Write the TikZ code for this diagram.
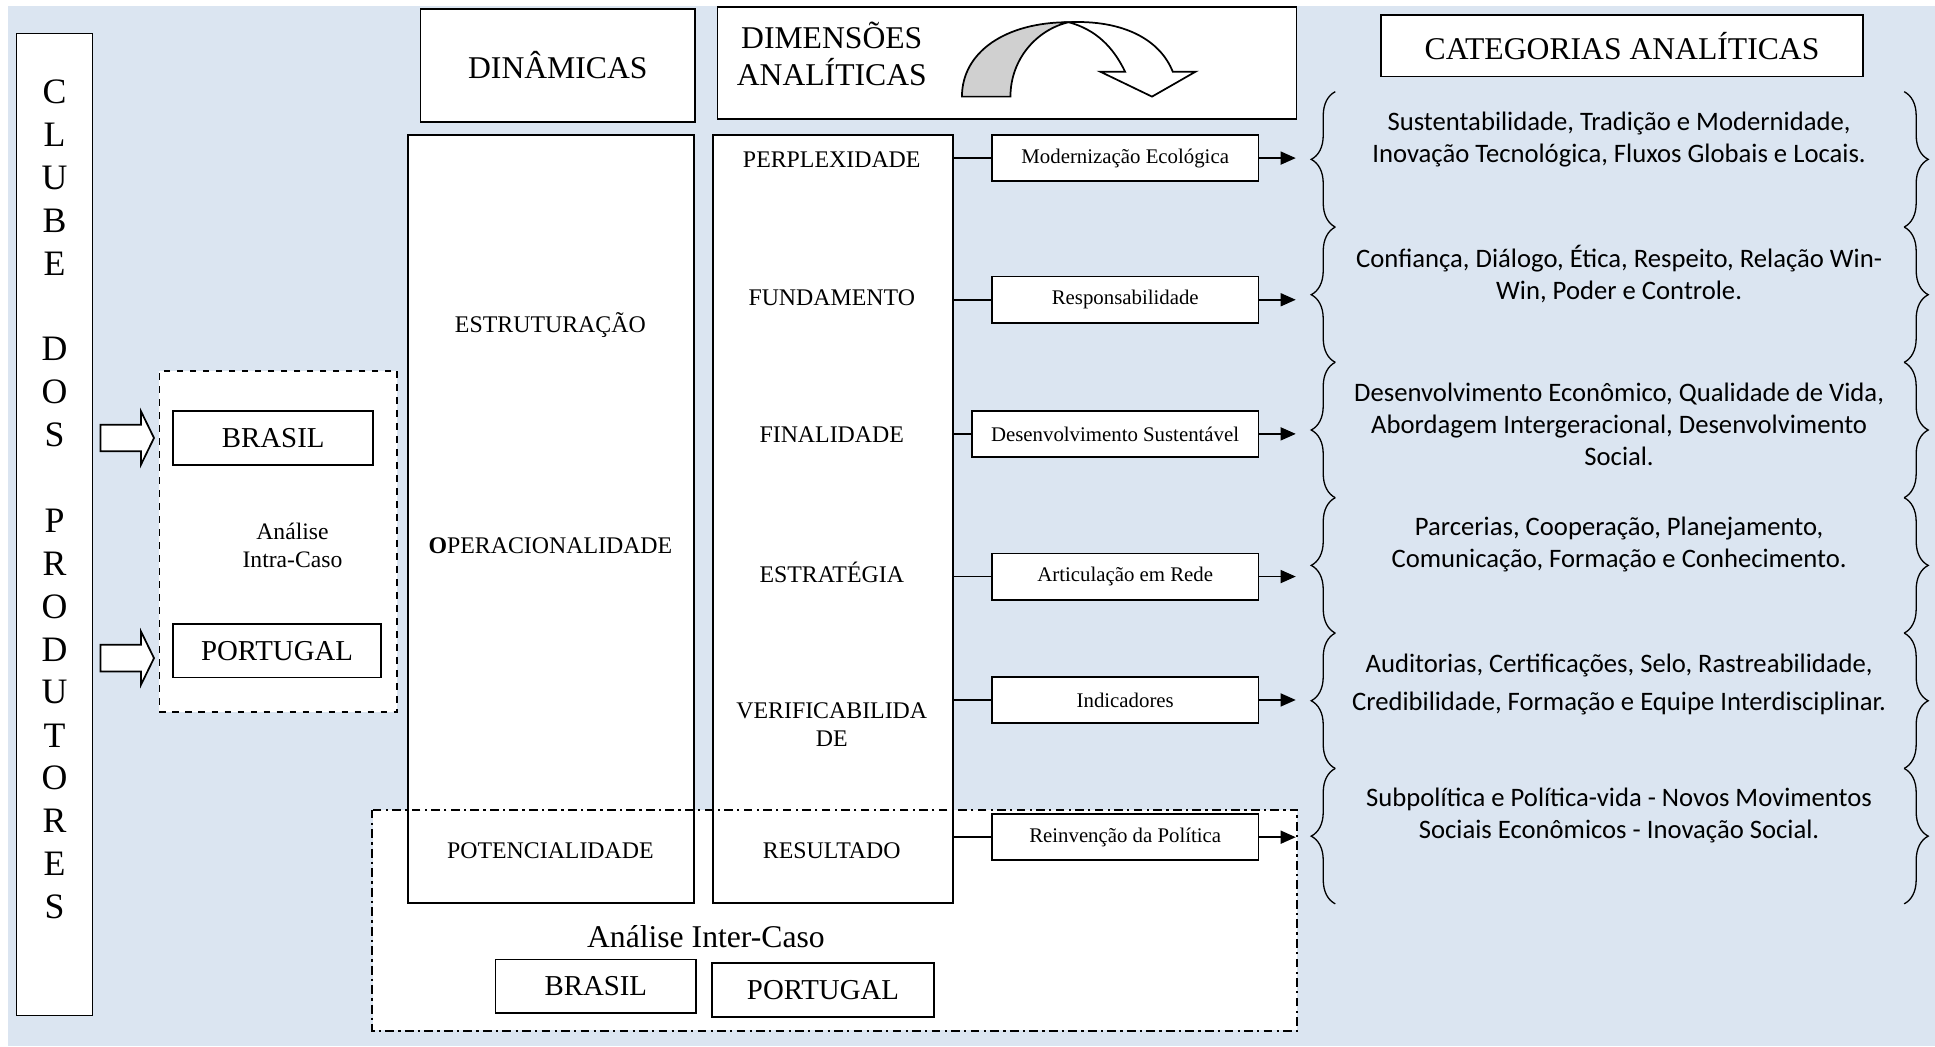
\documentclass[tikz,border=0pt]{standalone}
\usepackage{fontspec}
\setmainfont{Liberation Serif}
\newfontfamily\catfont{Carlito}
\usetikzlibrary{arrows.meta,decorations.pathreplacing}
\definecolor{fundo}{HTML}{DBE5F1}
\definecolor{cinza}{HTML}{D0D0D0}

\begin{document}
\begin{tikzpicture}[x=0.02cm,y=-0.02cm]
\tikzset{caixa/.style={draw, fill=white, line width=0.8pt, inner sep=0pt},
  titulo/.style={font=\fontsize{14.6}{17}\selectfont, align=center},
  pais/.style={caixa, minimum height=0.868cm, font=\fontsize{13.3}{15}\selectfont},
  rotulo/.style={font=\fontsize{11}{13}\selectfont, align=center},
  meio/.style={caixa, minimum width=4.322cm, minimum height=0.75cm, font=\fontsize{9.6}{11}\selectfont},
  seta/.style={-{Triangle[length=7pt,width=6pt]}, line width=0.8pt},
  chave/.style={decorate, decoration={brace, amplitude=0.39cm}, line width=0.6pt},
  cat/.style={font=\catfont\fontsize{12.3}{14.8}\selectfont, align=center}}
\useasboundingbox (0,0) rectangle (1568,848);
\fill[white] (0,0) rectangle (1568,848);
\fill[fundo] (6.5,5) rectangle (1568,848);

\node[caixa, minimum width=1.23cm, minimum height=15.92cm] (clube) at (44.2,425) {};
\foreach \letra [count=\i] in {C,L,U,B,E,{},D,O,S,{},P,R,O,D,U,T,O,R,E,S}
  \node[font=\fontsize{16.5}{18}\selectfont] (letra\i) at (44.2,{74.3+(\i-1)*34.77}) {\letra};

\node[caixa, minimum width=4.448cm, minimum height=1.826cm, titulo] (dinam) at (452,53) {DINÂMICAS};
\node[caixa, minimum width=9.386cm, minimum height=1.816cm] (dimens) at (816,51.3) {};
\node[titulo] (dimtit) at (674,44) {DIMENSÕES\\ANALÍTICAS};
\filldraw[fill=cinza, line width=0.8pt] (779.5,78.3) .. controls (779.5,42) and (815,18) .. (866,18) .. controls (840,24) and (818.8,48) .. (818.8,78.3) -- cycle;
\filldraw[fill=white, line width=0.8pt] (866,18) .. controls (910,16) and (940,32) .. (950.3,58.1) -- (968.8,58.1) -- (933.5,78.3) -- (891.6,58.1) -- (911.7,58.1) .. controls (902,38) and (888,24) .. (866,18) -- cycle;
\node[caixa, minimum width=7.814cm, minimum height=0.996cm, titulo] (categ) at (1314.4,37.1) {CATEGORIAS ANALÍTICAS};

\node[draw, dashed, fill=white, line width=0.8pt, minimum width=3.856cm, minimum height=5.536cm] (intra) at (225.6,438.8) {};
\node[pais, minimum width=3.24cm] (brasilA) at (221.4,354.9) {BRASIL};
\node[pais, minimum width=3.364cm] (portugalA) at (224.5,527.2) {PORTUGAL};
\node[font=\fontsize{10.9}{13}\selectfont, align=center] (intratxt) at (237,442) {Análise\\Intra-Caso};
\foreach \y in {354.9,533.3}
  \filldraw[fill=white, line width=0.8pt] (81.4,\y-10.8) -- (114.3,\y-10.8) -- (114.3,\y-21.5) -- (124.8,\y) -- (114.3,\y+21.5) -- (114.3,\y+10.8) -- (81.4,\y+10.8) -- cycle;

\node[fill=white, minimum width=14.98cm, minimum height=3.57cm, inner sep=0pt] (inter) at (676.5,745.8) {};
\node[caixa, minimum width=4.644cm, minimum height=12.452cm] (dincol) at (446.4,420.7) {};
\node[caixa, minimum width=3.882cm, minimum height=12.452cm] (dimcol) at (675,420.7) {};
\draw[line width=0.8pt, dash pattern=on 4pt off 2pt on 1pt off 2pt] (inter.north west) rectangle (inter.south east);

\node[rotulo] (estrut) at (446,263) {ESTRUTURAÇÃO};
\node[rotulo] (operac) at (446,442) {\textbf{O}PERACIONALIDADE};
\node[rotulo] (potenc) at (446,689) {POTENCIALIDADE};
\node[rotulo] (perplex) at (674,129) {PERPLEXIDADE};
\node[rotulo] (fundam) at (674,241) {FUNDAMENTO};
\node[rotulo] (final) at (674,352) {FINALIDADE};
\node[rotulo] (estrat) at (674,464) {ESTRATÉGIA};
\node[rotulo] (verif) at (674,587.5) {VERIFICABILIDA\\DE};
\node[rotulo] (result) at (674,689) {RESULTADO};

\node[titulo] (intertxt) at (572,759) {Análise Inter-Caso};
\node[pais, minimum width=3.248cm] (brasilB) at (482.8,799.1) {BRASIL};
\node[pais, minimum width=3.588cm] (portugalB) at (666.9,802.3) {PORTUGAL};

\node[meio] (modern) at (911.8,128.1) {Modernização Ecológica};
\node[meio] (respons) at (911.8,242.9) {Responsabilidade};
\node[meio, minimum width=4.65cm] (desenv) at (903.6,351.6) {Desenvolvimento Sustentável};
\node[meio] (articul) at (911.8,467.2) {Articulação em Rede};
\node[meio] (indic) at (911.8,567.2) {Indicadores};
\node[meio] (reinv) at (911.8,678.4) {Reinvenção da Política};

\coordinate (ponta) at (1050,0);
\foreach \c in {modern,respons,desenv,articul,indic,reinv} {
  \draw[line width=0.8pt] (dimcol.east |- \c.west) -- (\c.west);
  \draw[seta] (\c.east) -- (\c.east -| ponta);
}

\foreach \a/\b in {74.3/184,184/293.6,293.6/403.3,403.3/513,513/622.7,622.7/732.4} {
  \draw[chave] (1082,\b) -- (1082,\a);
  \draw[chave] (1543,\a) -- (1543,\b);
}

\node[cat] (catA) at (1312,113) {Sustentabilidade, Tradição e Modernidade,\\Inovação Tecnológica, Fluxos Globais e Locais.};
\node[cat] (catB) at (1312,222) {Confiança, Diálogo, Ética, Respeito, Relação Win-\\Win, Poder e Controle.};
\node[cat] (catC) at (1312,344) {Desenvolvimento Econômico, Qualidade de Vida,\\Abordagem Intergeracional, Desenvolvimento\\Social.};
\node[cat] (catD) at (1312,441) {Parcerias, Cooperação, Planejamento,\\Comunicação, Formação e Conhecimento.};
\node[cat, font=\catfont\fontsize{12.3}{17.6}\selectfont] (catE) at (1312,554.5) {Auditorias, Certificações, Selo, Rastreabilidade,\\Credibilidade, Formação e Equipe Interdisciplinar.};
\node[cat] (catF) at (1312,661) {Subpolítica e Política-vida - Novos Movimentos\\Sociais Econômicos - Inovação Social.};
\end{tikzpicture}
\end{document}
